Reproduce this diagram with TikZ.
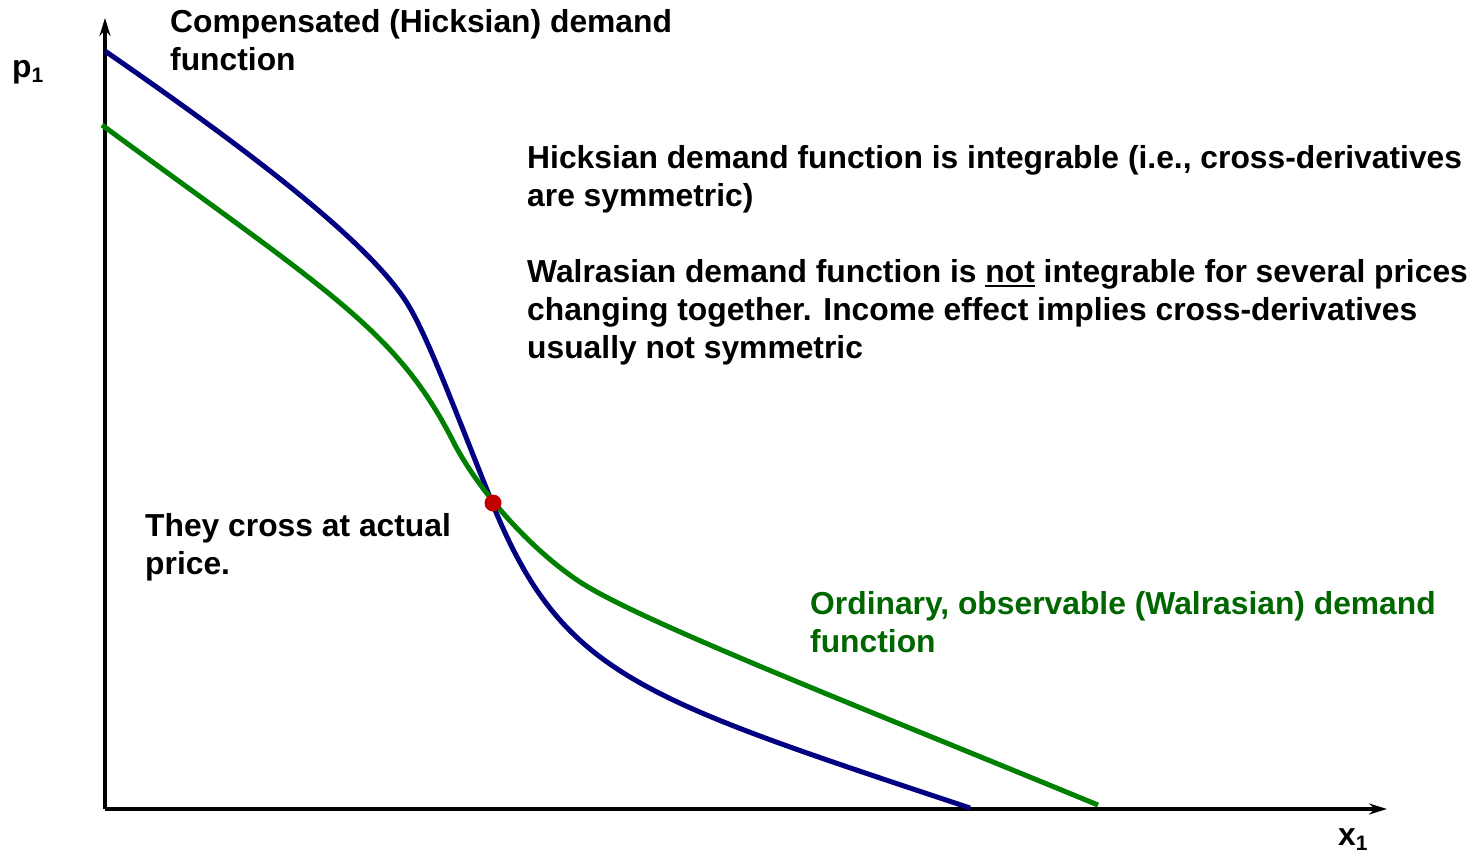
\documentclass[tikz,border=0pt]{standalone}
\usepackage{fontspec}
\setmainfont{Liberation Sans}
\usetikzlibrary{arrows.meta}
\definecolor{hicks}{RGB}{0,0,128}
\definecolor{walras}{RGB}{0,128,0}
\definecolor{walrastext}{RGB}{0,102,0}
\definecolor{dotred}{RGB}{192,0,0}
\newcommand{\underword}[1]{\setbox0\hbox{#1}\rlap{\rule[-5pt]{\wd0}{2.5pt}}\box0\relax}
\newcommand{\lowone}{\raisebox{-5pt}{\fontsize{21}{21}\selectfont 1}}
\begin{document}
\begin{tikzpicture}[x=1pt, y=-1pt,
  note/.style={font=\fontsize{31.8}{38}\selectfont\bfseries, align=left, anchor=base west, inner sep=0pt},
  axis/.style={line width=3.5pt, -{Stealth[length=18pt, width=11pt, inset=6pt]}},
  curve/.style={line width=5pt}]
  \useasboundingbox (0,0) rectangle (1483,854);
  % axes
  \coordinate (o) at (105,809);
  \coordinate (ytip) at (105,18);
  \coordinate (xtip) at (1387,809);
  \draw[axis] (o) -- (ytip);
  \draw[axis] (o) -- (xtip);
  \node[note] (pone) at (12,77) {p\lowone};
  \node[note] (xone) at (1338,845) {x\lowone};
  % demand curves, meeting at the actual price
  \coordinate (cross) at (493,505);
  \draw[curve, hicks] (105,51) .. controls (225,134) and (365,236) .. (407,303)
    .. controls (427,335) and (453,405) .. (cross)
    .. controls (563,676) and (640,698) .. (970,808);
  \draw[curve, walras] (102,125) .. controls (332,294) and (398,331) .. (455,445)
    .. controls (480,492) and (530,549) .. (580,582)
    .. controls (640,621) and (848,702) .. (1098,805);
  \fill[dotred] (cross) ++(0,-2) circle (8.5);
  % texts (anchored at the baseline of their last line)
  \node[note] (hickslabel) at (170,70) {Compensated (Hicksian) demand\\function};
  \node[note] (integrable) at (527,206) {Hicksian demand function is integrable (i.e., cross-derivatives\\are symmetric)};
  \node[note] (notintegrable) at (527,358) {Walrasian demand function is \underword{not} integrable for several prices\\changing together. Income effect implies cross-derivatives\\usually not symmetric};
  \node[note] (crossnote) at (145,574) {They cross at actual\\price.};
  \node[note, text=walrastext] (walraslabel) at (810,652) {Ordinary, observable (Walrasian) demand\\function};
\end{tikzpicture}
\end{document}
